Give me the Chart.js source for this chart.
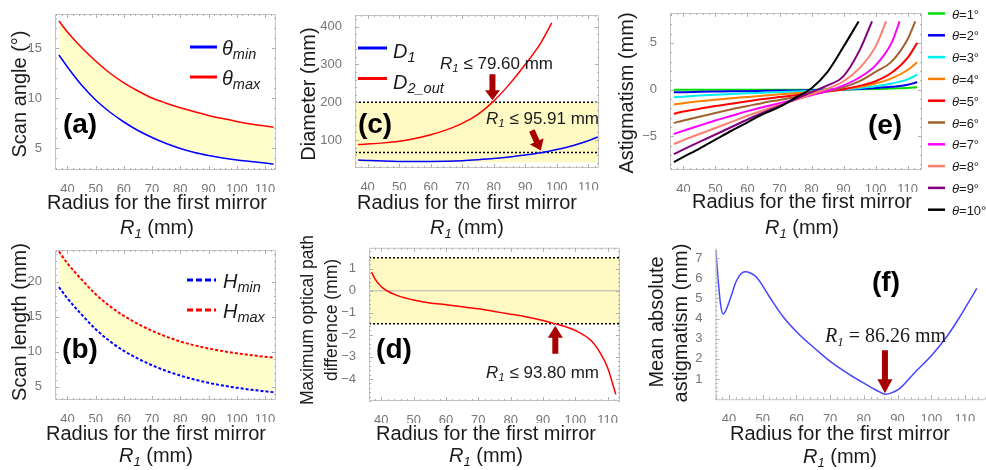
<!DOCTYPE html>
<html>
<head>
<meta charset="utf-8">
<script src="https://cdn.jsdelivr.net/npm/chart.js@4.4.0/dist/chart.umd.min.js"></script>
<style>
  html, body { margin: 0; padding: 0; background: #fff; }
  body { width: 986px; height: 470px; position: relative; overflow: hidden; }
  canvas { position: absolute; }
</style>
</head>
<body>
<canvas id="pa"></canvas>
<canvas id="pb"></canvas>
<canvas id="pc"></canvas>
<canvas id="pd"></canvas>
<canvas id="pe"></canvas>
<canvas id="pf"></canvas>
<script>
// ---- data ----
const R_GRID = [37, 40, 45, 50, 55, 60, 65, 70, 75, 80, 85, 90, 95, 100, 105, 110, 113];
const TICK_R = [40, 50, 60, 70, 80, 90, 100, 110];

// (a) scan angle
const THETA_MIN = [14.3, 13.1, 11.3, 9.8, 8.6, 7.6, 6.75, 6.05, 5.45, 4.95, 4.55, 4.25, 4.0, 3.8, 3.65, 3.5, 3.4];
const THETA_MAX = [17.7, 16.6, 15.05, 13.7, 12.5, 11.52, 10.7, 10.0, 9.48, 9.02, 8.62, 8.26, 7.94, 7.66, 7.41, 7.2, 7.08];

// (b) scan length
const H_MIN = [19.2, 17.6, 15.3, 13.2, 11.5, 10.1, 9.0, 8.05, 7.25, 6.58, 6.02, 5.55, 5.16, 4.84, 4.57, 4.34, 4.22];
const H_MAX = [24.3, 22.6, 20.3, 18.2, 16.5, 15.1, 13.95, 12.97, 12.15, 11.45, 10.9, 10.45, 10.08, 9.77, 9.5, 9.27, 9.15];

// (c) diameters
const D1 = [47, 46, 44.5, 43.5, 43, 43.2, 44, 45.5, 48, 51, 55, 60.5, 66.5, 75, 85, 98, 108];
const R_D2 = [37, 40, 45, 50, 55, 60, 65, 70, 75, 80, 85, 90, 95, 98.4];
const D2_OUT = [88, 89.5, 92.5, 97, 104, 114, 127, 144, 168, 203, 248, 300, 358, 410];
const C_BAND = [41, 200];
const C_D1_LIMIT = 67;

// (d) max optical path difference
const R_OPD = [37, 38, 40, 42, 45, 50, 55, 60, 65, 70, 75, 80, 85, 90, 93.8, 100, 105, 108, 110, 112.5];
const OPD = [0.85, 0.55, 0.18, -0.02, -0.22, -0.42, -0.55, -0.63, -0.72, -0.82, -0.94, -1.06, -1.19, -1.35, -1.5, -1.8, -2.28, -2.9, -3.5, -4.7];
const OPD_LIMIT = [-1.5, 1.5];

// (e) astigmatism per scan angle
const THETA_DEG = [1, 2, 3, 4, 5, 6, 7, 8, 9, 10];
const AST_1 = [-0.02, -0.02, -0.02, -0.02, -0.02, -0.01, -0.01, -0.01, 0, 0, 0.01, 0.02, 0.04, 0.07, 0.11, 0.18, 0.25];
const AST_2 = [-0.29, -0.27, -0.24, -0.21, -0.18, -0.16, -0.13, -0.1, -0.08, -0.05, -0.02, 0.02, 0.08, 0.17, 0.3, 0.52, 0.79];
const AST_3 = [-0.82, -0.75, -0.64, -0.55, -0.47, -0.4, -0.33, -0.26, -0.2, -0.13, -0.06, 0.03, 0.16, 0.35, 0.65, 1.1, 1.6];
const AST_4 = [-1.6, -1.45, -1.25, -1.08, -0.92, -0.78, -0.64, -0.5, -0.38, -0.25, -0.12, 0.05, 0.3, 0.65, 1.2, 2.1, 2.93];
const AST_5 = [-2.57, -2.35, -2.05, -1.75, -1.5, -1.25, -1.0, -0.8, -0.6, -0.4, -0.2, 0.05, 0.4, 0.9, 1.8, 3.4, 5.0];
const AST_6 = [-3.57, -3.3, -2.9, -2.5, -2.1, -1.75, -1.4, -1.1, -0.8, -0.5, -0.2, 0.25, 0.9, 1.9, 3.0, 5.4, null];
const AST_7 = [-4.75, -4.4, -3.85, -3.3, -2.8, -2.3, -1.85, -1.45, -1.05, -0.6, -0.15, 0.45, 1.3, 2.6, 5.0, null, null];
const AST_8 = [-5.82, -5.4, -4.75, -4.1, -3.45, -2.8, -2.2, -1.65, -1.1, -0.5, 0.1, 0.9, 2.3, 4.6, null, null, null];
const AST_9 = [-6.9, -6.4, -5.6, -4.8, -4.0, -3.2, -2.45, -1.75, -1.0, -0.25, 0.45, 1.45, 4.2, null, null, null, null];
const AST_10 = [-7.75, -7.2, -6.3, -5.35, -4.4, -3.5, -2.6, -1.85, -0.85, 0.15, 1.9, 4.6, null, null, null, null, null];
const AST_END_R = [null, null, null, null, null, 112.4, 107.5, 103.3, 98.9, 94.7];
const AST_TOP = 7.3;
const THETA_COLORS = ['#00dd00', '#0000ee', '#00eeee', '#ff8000', '#ff0000', '#a0622d', '#ff00ff', '#fa8072', '#800080', '#000000'];

// (f) mean absolute astigmatism
const R_MEAN = [36.1, 36.8, 37.5, 38.3, 39.2, 40.3, 42.3, 44.7, 46.5, 48.2, 52, 56, 60, 66, 70, 76, 80, 84, 86.26, 88, 90.7, 95, 100.6, 105, 108.5, 113.5];
const MEAN_AST = [7.35, 5.9, 4.7, 4.22, 4.45, 4.95, 5.9, 6.32, 6.25, 6.05, 5.08, 4.1, 3.35, 2.44, 1.88, 1.2, 0.8, 0.42, 0.25, 0.3, 0.54, 1.3, 2.27, 3.2, 4.09, 5.5];

// ---- helpers ----
const SANS = '"Liberation Sans", Arial, sans-serif';
const SERIF = '"Liberation Serif", "Times New Roman", serif';
const INK = '#1b1b1b';
const YELLOW = '#ffffcc';
const YELLOW2 = '#fff9c4';
const DARKRED = '#a80000';
const YW = 42, XH = 22;

function pts(xs, ys, endX, endY) {
  const p = xs.map((x, i) => ({ x, y: ys[i] })).filter(q => q.y !== null);
  if (endX != null) p.push({ x: endX, y: endY });
  return p;
}

function rich(ctx, x, y, parts, align) {
  let w = 0;
  parts.forEach(p => { ctx.font = p[1]; w += ctx.measureText(p[0]).width; });
  let cx = align === 'center' ? x - w / 2 : x;
  ctx.textAlign = 'left';
  ctx.textBaseline = 'alphabetic';
  parts.forEach(p => {
    ctx.font = p[1];
    ctx.fillText(p[0], cx, y + (p[2] || 0));
    cx += ctx.measureText(p[0]).width;
  });
}

function xTitle(ctx, cx, y1, y2) {
  ctx.fillStyle = INK;
  rich(ctx, cx, y1 + 7, [['Radius for the first mirror', `20px ${SANS}`]], 'center');
  rich(ctx, cx, y2 + 7, [['R', `italic 20px ${SANS}`], ['1', `italic 13px ${SANS}`, 4], [' (mm)', `20px ${SANS}`]], 'center');
}

function yTitle(ctx, cx, cy, text, size) {
  ctx.save();
  ctx.translate(cx, cy);
  ctx.rotate(-Math.PI / 2);
  ctx.fillStyle = INK;
  ctx.font = `${size}px ${SANS}`;
  ctx.textAlign = 'center';
  ctx.textBaseline = 'middle';
  ctx.fillText(text, 0, 0);
  ctx.restore();
}

function letter(ctx, cx, cy, text) {
  ctx.fillStyle = '#000';
  ctx.font = `bold 28px ${SANS}`;
  ctx.textAlign = 'center';
  ctx.textBaseline = 'middle';
  ctx.fillText(text, cx, cy);
}

function legendRow(ctx, x1, x2, y, color, dash, sym, sub, tx, base) {
  ctx.save();
  ctx.strokeStyle = color;
  ctx.lineWidth = 3;
  ctx.setLineDash(dash);
  ctx.beginPath(); ctx.moveTo(x1, y); ctx.lineTo(x2, y); ctx.stroke();
  ctx.restore();
  ctx.fillStyle = INK;
  rich(ctx, tx, base, [[sym, `italic 20px ${SANS}`], [sub, `italic 14.5px ${SANS}`, 4]], 'left');
}

function arrow(ctx, x1, y1, x2, y2, hl) {
  const ang = Math.atan2(y2 - y1, x2 - x1), len = Math.hypot(x2 - x1, y2 - y1);
  const hw = 7.5, sw = 3;
  ctx.save();
  ctx.translate(x1, y1); ctx.rotate(ang);
  ctx.fillStyle = DARKRED;
  ctx.beginPath();
  ctx.moveTo(0, -sw); ctx.lineTo(len - hl, -sw); ctx.lineTo(len - hl, -hw); ctx.lineTo(len, 0);
  ctx.lineTo(len - hl, hw); ctx.lineTo(len - hl, sw); ctx.lineTo(0, sw);
  ctx.closePath(); ctx.fill();
  ctx.restore();
}

function tickList(min, max, step) {
  const out = [];
  for (let v = Math.ceil(min / step - 1e-9) * step; v <= max + 1e-9; v += step) out.push(v);
  return out;
}

function frame(chart, ax, boxed) {
  const { ctx, chartArea: c, scales: { x, y } } = chart;
  ctx.save();
  ctx.strokeStyle = '#c4c4c4';
  ctx.lineWidth = 1;
  ctx.beginPath();
  if (boxed) {
    ctx.rect(c.left + 0.5, c.top + 0.5, c.right - c.left - 1, c.bottom - c.top - 1);
  } else {
    ctx.moveTo(c.left + 0.5, c.top); ctx.lineTo(c.left + 0.5, c.bottom + 0.5); ctx.lineTo(c.right, c.bottom + 0.5);
  }
  ctx.stroke();
  ctx.strokeStyle = '#b0b0b0';
  ctx.beginPath();
  const xs = ax.x.ticks[1] - ax.x.ticks[0], ys = ax.y.ticks[1] - ax.y.ticks[0];
  tickList(ax.x.min, ax.x.max, xs / 5).forEach(v => {
    const p = Math.round(x.getPixelForValue(v)) + 0.5;
    const L = ax.x.ticks.some(t => Math.abs(t - v) < 1e-6) ? 4 : 2;
    ctx.moveTo(p, c.bottom); ctx.lineTo(p, c.bottom - L);
    if (boxed) { ctx.moveTo(p, c.top); ctx.lineTo(p, c.top + L); }
  });
  tickList(ax.y.min, ax.y.max, ys / 5).forEach(v => {
    const p = Math.round(y.getPixelForValue(v)) + 0.5;
    const L = ax.y.ticks.some(t => Math.abs(t - v) < 1e-6) ? 4 : 2;
    ctx.moveTo(c.left, p); ctx.lineTo(c.left + L, p);
    if (boxed) { ctx.moveTo(c.right, p); ctx.lineTo(c.right - L, p); }
  });
  ctx.stroke();
  ctx.restore();
}

function axis(a, vertical) {
  return {
    type: 'linear',
    min: a.min,
    max: a.max,
    grid: { display: false },
    border: { display: false },
    afterFit(s) { if (vertical) s.width = YW; else s.height = XH; },
    afterBuildTicks(s) { s.ticks = a.ticks.map(v => ({ value: v })); },
    ticks: {
      color: '#777',
      font: { family: SANS, size: 13 },
      padding: vertical ? 5 : 4,
      autoSkip: false,
      maxRotation: 0,
      callback: v => String(v).replace('-', '\u2212')
    }
  };
}

function panel(id, box, fr, ax, datasets, boxed, deco) {
  const cv = document.getElementById(id);
  cv.width = box.w; cv.height = box.h;
  cv.style.left = box.x + 'px'; cv.style.top = box.y + 'px';
  return new Chart(cv, {
    type: 'line',
    data: { datasets },
    options: {
      responsive: false,
      animation: false,
      layout: { padding: {
        left: fr.l - box.x - YW,
        right: box.x + box.w - fr.r,
        top: fr.t - box.y,
        bottom: box.y + box.h - fr.b - XH
      } },
      plugins: { legend: { display: false }, tooltip: { enabled: false } },
      elements: {
        point: { radius: 0 },
        line: { cubicInterpolationMode: 'monotone', borderWidth: 1.5, fill: false }
      },
      scales: { x: axis(ax.x, false), y: axis(ax.y, true) }
    },
    plugins: [{
      id: 'deco',
      afterDraw(chart) {
        frame(chart, ax, boxed);
        const ctx = chart.ctx;
        const P = (xv, yv) => [chart.scales.x.getPixelForValue(xv) + box.x, chart.scales.y.getPixelForValue(yv) + box.y];
        ctx.save();
        ctx.translate(-box.x, -box.y);
        deco(ctx, P);
        ctx.restore();
      }
    }]
  });
}

// ---- (a) ----
const AX_A = { x: { min: 35.6, max: 113.9, ticks: TICK_R }, y: { min: 2.8, max: 18.4, ticks: [5, 10, 15] } };
panel('pa', { x: 0, y: 0, w: 300, h: 242 }, { l: 55, t: 14, r: 276, b: 170 }, AX_A, [
  { data: pts(R_GRID, THETA_MIN), borderColor: '#0000ff', order: 1 },
  { data: pts(R_GRID, THETA_MAX), borderColor: '#ff0000', fill: '-1', backgroundColor: YELLOW, order: 2 }
], true, (ctx) => {
  legendRow(ctx, 190, 217, 47, '#0000ff', [], 'θ', 'min', 222, 55);
  legendRow(ctx, 190, 217, 77, '#ff0000', [], 'θ', 'max', 222, 85);
  letter(ctx, 80, 125, '(a)');
  xTitle(ctx, 157, 202, 227);
  yTitle(ctx, 20, 94, 'Scan angle (°)', 20);
});

// ---- (b) ----
const AX_B = { x: { min: 35.6, max: 113.9, ticks: TICK_R }, y: { min: 3.1, max: 24.5, ticks: [5, 10, 15, 20] } };
panel('pb', { x: 0, y: 235, w: 300, h: 235 }, { l: 55, t: 250, r: 276, b: 400 }, AX_B, [
  { data: pts(R_GRID, H_MIN), borderColor: '#0000ff', borderDash: [3, 2], borderWidth: 2, order: 1 },
  { data: pts(R_GRID, H_MAX), borderColor: '#ff0000', borderDash: [3, 2], borderWidth: 2, fill: '-1', backgroundColor: YELLOW, order: 2 }
], true, (ctx) => {
  legendRow(ctx, 187, 216, 280, '#0000ff', [6, 3], 'H', 'min', 223, 288);
  legendRow(ctx, 187, 216, 310, '#ff0000', [6, 3], 'H', 'max', 223, 318);
  letter(ctx, 80, 350, '(b)');
  xTitle(ctx, 156, 433, 455);
  yTitle(ctx, 20, 322, 'Scan length (mm)', 20);
});

// ---- (c) ----
const AX_C = { x: { min: 36, max: 113.4, ticks: TICK_R }, y: { min: 26, max: 431, ticks: [100, 200, 300, 400] } };
panel('pc', { x: 295, y: 0, w: 325, h: 242 }, { l: 355, t: 15, r: 599, b: 168 }, AX_C, [
  { data: pts(R_GRID, D1), borderColor: '#0000ff', order: 1 },
  { data: pts(R_D2, D2_OUT), borderColor: '#ff0000', order: 2 },
  { data: [{ x: AX_C.x.min, y: C_D1_LIMIT }, { x: AX_C.x.max, y: C_D1_LIMIT }], borderColor: '#000', borderDash: [2, 2], borderWidth: 1.5, order: 4 },
  { data: [{ x: AX_C.x.min, y: C_BAND[1] }, { x: AX_C.x.max, y: C_BAND[1] }], borderColor: '#000', borderDash: [2, 2], borderWidth: 1.5,
    fill: { value: C_BAND[0] }, backgroundColor: YELLOW2, order: 5 }
], true, (ctx, P) => {
  legendRow(ctx, 358, 387, 48, '#0000ff', [], 'D', '1', 393, 58);
  legendRow(ctx, 358, 387, 78.5, '#ff0000', [], 'D', '2_out', 393, 88.5);
  letter(ctx, 375, 125, '(c)');
  const t1 = P(79.6, C_BAND[1]);
  arrow(ctx, t1[0], t1[1] - 28, t1[0], t1[1] - 2, 10);
  const t2 = P(95.91, C_D1_LIMIT);
  arrow(ctx, t2[0] - 12, t2[1] - 22, t2[0] - 3, t2[1] - 2, 10);
  ctx.fillStyle = INK;
  rich(ctx, 440, 69, [['R', `italic 17px ${SANS}`], ['1', `italic 11.5px ${SANS}`, 3], [' ≤ 79.60 mm', `17px ${SANS}`]], 'left');
  rich(ctx, 486, 124, [['R', `italic 17px ${SANS}`], ['1', `italic 11.5px ${SANS}`, 3], [' ≤ 95.91 mm', `17px ${SANS}`]], 'left');
  xTitle(ctx, 467, 202, 227);
  yTitle(ctx, 309, 94, 'Diameter (mm)', 20);
});

// ---- (d) ----
const AX_D = { x: { min: 36.2, max: 113.8, ticks: TICK_R }, y: { min: -5, max: 1.95, ticks: [-4, -3, -2, -1, 0, 1] } };
panel('pd', { x: 295, y: 235, w: 335, h: 235 }, { l: 369, t: 243, r: 620, b: 401 }, AX_D, [
  { data: pts(R_OPD, OPD), borderColor: '#ff0000', order: 1 },
  { data: [{ x: AX_D.x.min, y: 0 }, { x: AX_D.x.max, y: 0 }], borderColor: '#b4b4b4', borderWidth: 1, order: 3 },
  { data: [{ x: AX_D.x.min, y: OPD_LIMIT[0] }, { x: AX_D.x.max, y: OPD_LIMIT[0] }], borderColor: '#000', borderDash: [2, 2], borderWidth: 1.5, order: 4 },
  { data: [{ x: AX_D.x.min, y: OPD_LIMIT[1] }, { x: AX_D.x.max, y: OPD_LIMIT[1] }], borderColor: '#000', borderDash: [2, 2], borderWidth: 1.5,
    fill: { value: OPD_LIMIT[0] }, backgroundColor: YELLOW2, order: 5 }
], true, (ctx, P) => {
  letter(ctx, 394, 350, '(d)');
  const t = P(93.8, OPD_LIMIT[0]);
  arrow(ctx, t[0], t[1] + 30, t[0], t[1] + 2, 12);
  ctx.fillStyle = INK;
  rich(ctx, 486, 377.5, [['R', `italic 17px ${SANS}`], ['1', `italic 11.5px ${SANS}`, 3], [' ≤ 93.80 mm', `17px ${SANS}`]], 'left');
  xTitle(ctx, 486, 433, 455);
  yTitle(ctx, 308, 320, 'Maximum optical path', 17.5);
  yTitle(ctx, 332, 320, 'difference (mm)', 17.5);
});

// ---- (e) ----
const AX_E = { x: { min: 35.8, max: 114.5, ticks: TICK_R }, y: { min: -8.6, max: 8.2, ticks: [-5, 0, 5] } };
const ASTIG = [AST_1, AST_2, AST_3, AST_4, AST_5, AST_6, AST_7, AST_8, AST_9, AST_10];
panel('pe', { x: 612, y: 0, w: 374, h: 242 }, { l: 670, t: 13, r: 922, b: 170 }, AX_E,
  ASTIG.map((vals, i) => ({
    data: pts(R_GRID, vals, AST_END_R[i], AST_TOP),
    borderColor: THETA_COLORS[i], borderWidth: 2, order: 10 - i
  })), true, (ctx) => {
  THETA_DEG.forEach((d, i) => {
    const y = 13.5 + i * 21.8;
    ctx.save();
    ctx.strokeStyle = THETA_COLORS[i]; ctx.lineWidth = 2.5;
    ctx.beginPath(); ctx.moveTo(928, y); ctx.lineTo(945, y); ctx.stroke();
    ctx.restore();
    ctx.fillStyle = INK;
    rich(ctx, 952, y + 5, [['θ', `italic 13px ${SANS}`], [`=${d}°`, `13px ${SANS}`]], 'left');
  });
  letter(ctx, 885, 126, '(e)');
  xTitle(ctx, 802, 201, 227);
  yTitle(ctx, 627, 93, 'Astigmatism (mm)', 20);
});

// ---- (f) ----
const AX_F = { x: { min: 36, max: 116, ticks: TICK_R }, y: { min: 0, max: 7.5, ticks: [1, 2, 3, 4, 5, 6, 7] } };
panel('pf', { x: 640, y: 235, w: 346, h: 235 }, { l: 715.5, t: 248, r: 985.2, b: 399.2 }, AX_F, [
  { data: pts(R_MEAN, MEAN_AST), borderColor: '#4646ff', borderWidth: 1.5 }
], false, (ctx, P) => {
  letter(ctx, 886, 283, '(f)');
  const t = P(86.26, 0.25);
  arrow(ctx, t[0], t[1] - 44, t[0], t[1] - 1, 14);
  ctx.fillStyle = INK;
  rich(ctx, 825, 342, [['R', `italic 20px ${SERIF}`], ['1', `italic 13px ${SERIF}`, 4], [' = 86.26 mm', `20px ${SERIF}`]], 'left');
  xTitle(ctx, 840, 433, 456);
  yTitle(ctx, 657, 322, 'Mean absolute', 20);
  yTitle(ctx, 681, 323, 'astigmatism (mm)', 20);
});
</script>
</body>
</html>
